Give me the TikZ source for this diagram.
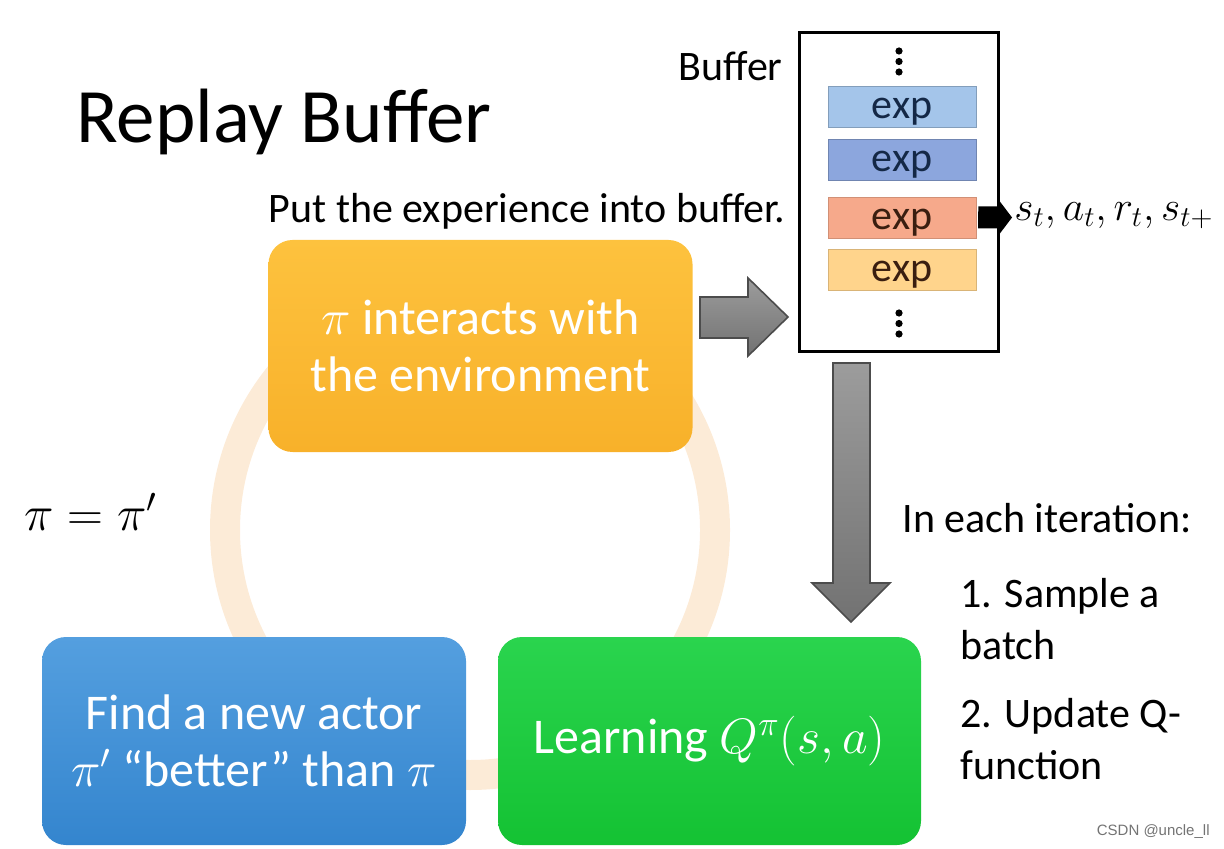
\documentclass[tikz,border=0pt]{standalone}
\usepackage{fontspec}
\setmainfont{Carlito}
\newfontfamily\wmfont{Liberation Sans}
\usetikzlibrary{shadings}
\definecolor{ringc}{HTML}{FCEBD7}
\definecolor{orgtop}{HTML}{FDC23E}
\definecolor{orgbot}{HTML}{F8B12A}
\definecolor{blutop}{HTML}{549FDF}
\definecolor{blubot}{HTML}{3485CE}
\definecolor{grntop}{HTML}{2AD44E}
\definecolor{grnbot}{HTML}{14C233}
\definecolor{expa}{HTML}{A4C5EA}
\definecolor{expb}{HTML}{8CA6DD}
\definecolor{expc}{HTML}{F6A98B}
\definecolor{expd}{HTML}{FFD48C}
\definecolor{navytxt}{HTML}{142846}
\definecolor{browntxt}{HTML}{3A1E10}
\definecolor{arrtop}{HTML}{9C9C9C}
\definecolor{arrbot}{HTML}{727272}
\tikzset{
  procbox/.style={rounded corners=12pt, minimum width=212pt, minimum height=105pt,
    text=white, align=center, font=\fontsize{25}{28.5}\selectfont, inner sep=0pt},
  expbox/.style={minimum width=74pt, minimum height=20.5pt, inner sep=0pt, line width=0.3pt},
  exptext/.style={anchor=base, inner sep=0pt, font=\fontsize{21}{21}\selectfont},
  label/.style={font=\fontsize{21}{26}\selectfont, inner sep=0pt, align=left},
  grayarrow/.style={top color=arrtop, bottom color=arrbot, draw=black!70, line width=0.8pt},
  dot/.style={circle, fill=black, inner sep=0pt, minimum size=3.6pt}
}
\begin{document}
\begin{tikzpicture}[x=0.5pt,y=-0.5pt]
\useasboundingbox (0,0) rectangle (1224,849);
% faint ring
\draw[ringc, line width=15pt] (470,530) circle [radius=122.5pt];
% title
\node[anchor=west, font=\fontsize{38.5}{40}\selectfont, inner sep=0pt] (title) at (76,122) {Replay Buffer};
% process boxes
\node[procbox, top color=orgtop, bottom color=orgbot, minimum height=106pt] (env) at (480.5,346) {$\pi$ interacts with\\the environment};
\node[procbox, top color=blutop, bottom color=blubot, minimum height=104pt] (actor) at (254,741) {Find a new actor\\$\pi'$ ``better'' than $\pi$};
\node[procbox, top color=grntop, bottom color=grnbot, minimum height=104pt, minimum width=211.5pt] (learn) at (709.5,741) {Learning $Q^{\pi}(s,a)$};
% buffer
\node[draw=black, line width=1.5pt, minimum width=99.5pt, minimum height=159.5pt, inner sep=0pt] (buf) at (899,192.5) {};
\node[label, anchor=east] (buflabel) at (783,66) {Buffer};
\node[label, anchor=east] (put) at (786,211) {Put the experience into buffer.};
\node[expbox, fill=expa, draw=expa!80!black] (e1) at (902,107) {};
\node[expbox, fill=expb, draw=expb!80!black] (e2) at (902,160) {};
\node[expbox, fill=expc, draw=expc!85!black] (e3) at (902,217.5) {};
\node[expbox, fill=expd, draw=expd!85!black] (e4) at (902,269.5) {};
\node[exptext, text=navytxt] (t1) at (902,119) {exp};
\node[exptext, text=navytxt] (t2) at (902,172) {exp};
\node[exptext, text=browntxt] (t3) at (902,229.5) {exp};
\node[exptext, text=browntxt] (t4) at (902,281.5) {exp};
\node[dot] (da) at (899,51) {};
\node[dot] (db) at (899,61.5) {};
\node[dot] (dc) at (899,72) {};
\node[dot] (dd) at (899,313) {};
\node[dot] (de) at (899,323.5) {};
\node[dot] (df) at (899,334) {};
% black small arrow
\fill[black] (e3.east) ++(2,-11) -- (998,206.5) -- (998,199) -- (1012,217.5) -- (998,236) -- (998,228.5) -- (978,228.5) -- cycle;
\node[anchor=west, inner sep=0pt, font=\fontsize{22.5}{22}\selectfont] (tuple) at (1014,216) {$s_t, a_t, r_t, s_{t+}$};
% gray arrows
\path[grayarrow] (700,297) -- (748,297) -- (748,278) -- (788,317) -- (748,356) -- (748,338) -- (700,338) -- cycle;
\path[grayarrow] (833,363) -- (870,363) -- (870,583) -- (890,583) -- (851,622) -- (812,583) -- (833,583) -- cycle;
% pi = pi'
\node[anchor=west, inner sep=0pt, font=\fontsize{24}{24}\selectfont] (pieq) at (24,512) {$\pi=\pi'$};
% right text
\node[label, anchor=west] (each) at (902,518) {In each iteration:};
\node[label, anchor=north west] (s1) at (960,578) {1. Sample a\\batch};
\node[label, anchor=north west] (s2) at (960,698) {2. Update Q-\\function};
\node[anchor=east, inner sep=0pt, text=black!55, font=\wmfont\fontsize{7.5}{8}\selectfont] (wm) at (1210,832) {CSDN @uncle\_ll};
\end{tikzpicture}
\end{document}
